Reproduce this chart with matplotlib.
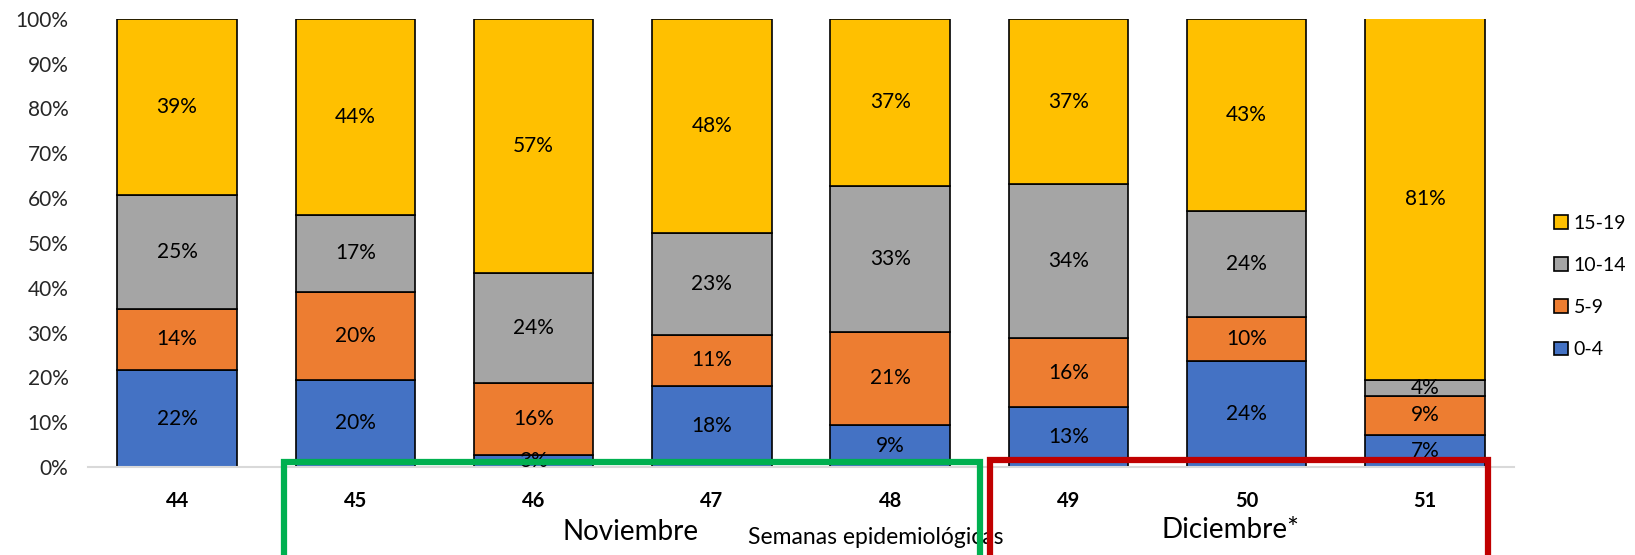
import matplotlib.pyplot as plt
from matplotlib.patches import Rectangle
import numpy as np

plt.rcParams['font.family'] = ['Lato', 'DejaVu Sans']

semanas = ['44', '45', '46', '47', '48', '49', '50', '51']
grupos = ['0-4', '5-9', '10-14', '15-19']
colores = ['#4472c4', '#ed7d31', '#a5a5a5', '#ffc000']

# porcentaje por grupo de edad (lectura del grafico)
g0_4 = [21.6, 19.5, 2.6, 18.1, 9.3, 13.3, 23.7, 7.2]
g5_9 = [13.7, 19.6, 16.2, 11.4, 20.9, 15.5, 9.8, 8.6]
g10_14 = [25.4, 17.2, 24.5, 22.8, 32.6, 34.3, 23.7, 3.7]
g15_19 = [39.3, 43.7, 56.7, 47.7, 37.2, 36.9, 42.8, 80.6]
series = [g0_4, g5_9, g10_14, g15_19]

fig = plt.figure(figsize=(16.35, 5.55), dpi=100)
ax = fig.add_axes([0.0538, 0.1586, 0.8722, 0.8074])

x = np.arange(len(semanas))
base = np.zeros(len(semanas))
for vals, nom, col in zip(series, grupos, colores):
    vals = np.array(vals)
    ax.bar(x, vals, 0.67, bottom=base, color=col, edgecolor='black',
           linewidth=1.2, label=nom, zorder=2)
    for xi, v, b0 in zip(x, vals, base):
        ax.text(xi, b0 + v / 2, '{:.0f}%'.format(v), ha='center', va='center',
                fontsize=15, color='black', zorder=3)
    base = base + vals

ax.set_xlim(-0.5, 7.5)
ax.set_ylim(0, 100)
ax.set_yticks(range(0, 101, 10))
ax.set_yticklabels(['{}%'.format(t) for t in range(0, 101, 10)], fontsize=15, color='#262626')
ax.set_xticks(x)
ax.set_xticklabels(semanas, fontsize=14.5, fontweight='bold', color='black')
ax.tick_params(length=0)
ax.tick_params(axis='x', pad=17)
ax.tick_params(axis='y', pad=14)
for s in ['top', 'right', 'left']:
    ax.spines[s].set_visible(False)
ax.spines['bottom'].set_color('#d9d9d9')
ax.spines['bottom'].set_linewidth(1.5)

h, l = ax.get_legend_handles_labels()
fig.legend(h[::-1], l[::-1], loc='upper left', bbox_to_anchor=(0.94, 0.645),
           frameon=False, fontsize=14, handlelength=0.7, handleheight=0.7,
           handletextpad=0.3, labelspacing=1.3)

fig.text(876 / 1635, 1 - 537 / 555, 'Semanas epidemiológicas', ha='center', va='center',
         fontsize=16.5, color='black')

# recuadros de meses
fig.add_artist(Rectangle((284 / 1635, -0.05), (980 - 284) / 1635, 0.05 + 93 / 555,
                         transform=fig.transFigure, fill=False, edgecolor='#00b050',
                         linewidth=4.5, clip_on=False, zorder=5))
fig.add_artist(Rectangle((990 / 1635, -0.05), (1488 - 990) / 1635, 0.05 + 95 / 555,
                         transform=fig.transFigure, fill=False, edgecolor='#c00000',
                         linewidth=4.5, clip_on=False, zorder=5))
fig.text(631 / 1635, 1 - 532 / 555, 'Noviembre', ha='center', va='center',
         fontsize=20, color='black')
fig.text(1230 / 1635, 1 - 530 / 555, 'Diciembre*', ha='center', va='center',
         fontsize=20, color='black')

fig.savefig('out.png', dpi=100)
